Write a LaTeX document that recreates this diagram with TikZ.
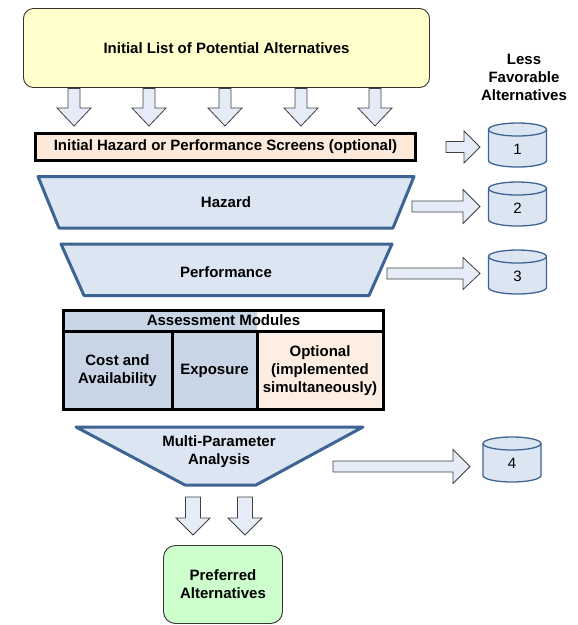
\documentclass[tikz,border=0pt]{standalone}
\usepackage{fontspec}
\setmainfont{Liberation Sans}
\definecolor{yellowfill}{HTML}{FFFFCC}
\definecolor{greenfill}{HTML}{CCFFCC}
\definecolor{peachfill}{HTML}{FDE9D9}
\definecolor{boxblue}{HTML}{DCE6F2}
\definecolor{steel}{HTML}{3E6494}
\definecolor{arrowfill}{HTML}{E6ECF7}
\definecolor{cellblue}{HTML}{C8D5E6}
\definecolor{cellpeach}{HTML}{FDEEE3}
\newcommand{\dnarrow}[6]{\draw[blockarrow] (#1-#5,#2) -- (#1+#5,#2) -- (#1+#5,#4) -- (#1+#6,#4) -- (#1,#3) -- (#1-#6,#4) -- (#1-#5,#4) -- cycle;}
\newcommand{\rtarrow}[6]{\draw[blockarrow] (#1,#4-#5) -- (#2,#4-#5) -- (#2,#4-#6) -- (#3,#4) -- (#2,#4+#6) -- (#2,#4+#5) -- (#1,#4+#5) -- cycle;}
\newcommand{\cylshape}[7]{%
  \draw[cylstyle] (#1-#4,#2+#5) -- (#1-#4,#3-#5) arc[start angle=180,end angle=0,x radius=#4,y radius=#5] -- (#1+#4,#2+#5) arc[start angle=0,end angle=-180,x radius=#4,y radius=#5] -- cycle;
  \draw[cylstyle,fill=none] (#1-#4,#2+#5) arc[start angle=180,end angle=0,x radius=#4,y radius=#5];
  \node[numlbl] (#7) at (#1,{(#2+#3)/2+4}) {#6};}
\begin{document}
\begin{tikzpicture}[x=1pt,y=-1pt,
  font=\fontsize{15}{18}\selectfont\bfseries,
  lbl/.style={align=center,inner sep=0pt},
  numlbl/.style={inner sep=0pt,font=\fontsize{15}{18}\selectfont},
  blockarrow/.style={fill=arrowfill,draw=black!75,line width=0.8pt,line join=miter},
  funnelstyle/.style={fill=boxblue,draw=steel,line width=3pt,line join=round},
  cylstyle/.style={fill=boxblue,draw=steel,line width=1.3pt},
  tablestyle/.style={draw=black,line width=3pt}]
\useasboundingbox (0,0) rectangle (578,625);

% top box
\node[draw=black!80,line width=0.9pt,rounded corners=10pt,fill=yellowfill,
  minimum width=406pt,minimum height=79pt,lbl] (list) at (226.5,48) {Initial List of Potential Alternatives};
\foreach \cx in {74,149,225,301,375}{\dnarrow{\cx}{88.5}{126}{108}{6}{17}}

\node[lbl] (less) at (524,77) {Less\\Favorable\\Alternatives};

% screens
\node[draw=black,line width=3pt,fill=peachfill,minimum width=380pt,minimum height=27pt,lbl] (screen) at (225.5,147) {Initial Hazard or Performance Screens (optional)};
\rtarrow{446}{464}{480}{147}{5.5}{16}
\cylshape{517.5}{123}{167}{29}{6.5}{1}{c1}

% hazard
\draw[funnelstyle] (38,176.5) -- (414,176.5) -- (393,228) -- (59,228) -- cycle;
\node[lbl] (hazard) at (226,202) {Hazard};
\rtarrow{412}{463}{480}{206.5}{5.5}{17}
\cylshape{517.5}{182}{226}{29}{6.5}{2}{c2}

% performance
\draw[funnelstyle] (61,244) -- (392,244) -- (369,295.5) -- (84,295.5) -- cycle;
\node[lbl] (perf) at (226,272) {Performance};
\rtarrow{387}{463}{480}{273.5}{5.5}{16}
\cylshape{517.5}{250}{294}{29}{6.5}{3}{c3}

% assessment table
\fill[cellblue] (63.5,310.5) rectangle (257,409.5);
\fill[cellpeach] (257,331) rectangle (383.5,409.5);
\draw[tablestyle] (63.5,310.5) rectangle (383.5,409.5);
\draw[tablestyle] (63.5,331) -- (383.5,331);
\draw[tablestyle] (172,331) -- (172,409.5);
\draw[tablestyle] (257,331) -- (257,409.5);
\node[lbl] (assess) at (223.5,320.5) {Assessment Modules};
\node[lbl] (cost) at (117.5,370.5) {Cost and\\Availability};
\node[lbl] (expo) at (214.5,370.5) {Exposure};
\node[lbl] (opt) at (320,370.5) {Optional\\(implemented\\simultaneously)};

% multi-parameter funnel
\draw[funnelstyle] (76,427) -- (363,427) -- (256,485) -- (185,485) -- cycle;
\node[lbl] (mpa) at (219,452) {Multi-Parameter\\Analysis};
\rtarrow{333}{453}{470}{466.5}{5.5}{17}
\cylshape{512}{437}{482}{29}{6.5}{4}{c4}

% bottom arrows
\foreach \cx in {193,245}{\dnarrow{\cx}{497}{535}{518}{7.5}{17}}

% preferred
\node[draw=black!80,line width=0.9pt,rounded corners=12pt,fill=greenfill,
  minimum width=119pt,minimum height=78pt,lbl] (pref) at (223,584.5) {Preferred\\Alternatives};
\end{tikzpicture}
\end{document}
